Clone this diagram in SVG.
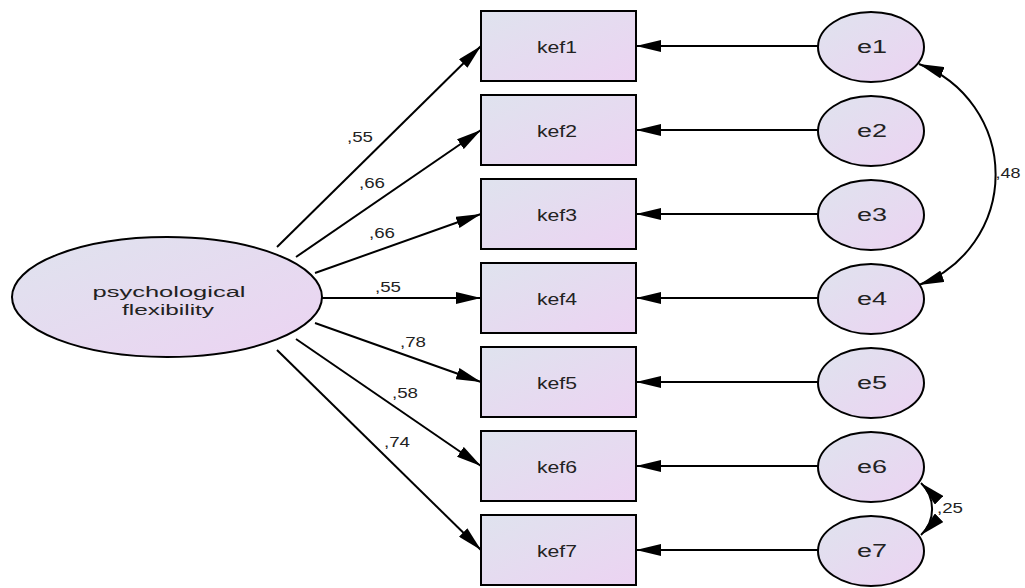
<svg xmlns="http://www.w3.org/2000/svg" width="1025" height="588" viewBox="0 0 1025 588">
<defs>
<linearGradient id="g" x1="0" y1="0" x2="1" y2="1">
<stop offset="0" stop-color="#dfe3ee"/>
<stop offset="1" stop-color="#ecd3f2"/>
</linearGradient>
<marker id="ah" viewBox="0 0 25 12" refX="25" refY="6" markerWidth="25" markerHeight="12" markerUnits="userSpaceOnUse" orient="auto-start-reverse">
<path d="M0,0 L25,6 L0,12 z" fill="#000"/>
</marker>
</defs>
<style>
.n{fill:url(#g);stroke:#000;stroke-width:2}
.t{font-family:"Liberation Sans",Arial,sans-serif;font-size:16.5px;fill:#222;text-anchor:middle}
.e{font-family:"Liberation Sans",Arial,sans-serif;font-size:17.5px;fill:#222;text-anchor:middle}
.p{font-family:"Liberation Sans",Arial,sans-serif;font-size:15.5px;fill:#222;text-anchor:middle}
.l{font-family:"Liberation Sans",Arial,sans-serif;font-size:14px;fill:#222;text-anchor:middle}
.c{stroke:#000;stroke-width:2;fill:none;marker-end:url(#ah)}
.cv{stroke:#000;stroke-width:2;fill:none;marker-end:url(#ah);marker-start:url(#ah)}
</style>
<g id="connectors">
<line class="c" x1="277" y1="247" x2="481" y2="46"/>
<line class="c" x1="296" y1="257" x2="481" y2="130"/>
<line class="c" x1="315" y1="273" x2="481" y2="214"/>
<line class="c" x1="322" y1="298" x2="481" y2="298"/>
<line class="c" x1="315" y1="323" x2="481" y2="382"/>
<line class="c" x1="296" y1="339" x2="481" y2="466"/>
<line class="c" x1="277" y1="350" x2="481" y2="550"/>
<line class="c" x1="818" y1="46" x2="636" y2="46"/>
<line class="c" x1="818" y1="130" x2="636" y2="130"/>
<line class="c" x1="818" y1="214" x2="636" y2="214"/>
<line class="c" x1="818" y1="298" x2="636" y2="298"/>
<line class="c" x1="818" y1="382" x2="636" y2="382"/>
<line class="c" x1="818" y1="466" x2="636" y2="466"/>
<line class="c" x1="818" y1="550" x2="636" y2="550"/>
<path class="cv" d="M919,64 A118,118 0 0 1 919,285"/>
<path class="cv" d="M921,483 A36,36 0 0 1 921,535"/>
<text class="l" x="360" y="142" textLength="26" lengthAdjust="spacingAndGlyphs">,55</text>
<text class="l" x="372" y="188" textLength="26" lengthAdjust="spacingAndGlyphs">,66</text>
<text class="l" x="382" y="238" textLength="26" lengthAdjust="spacingAndGlyphs">,66</text>
<text class="l" x="388" y="292" textLength="26" lengthAdjust="spacingAndGlyphs">,55</text>
<text class="l" x="413" y="347" textLength="26" lengthAdjust="spacingAndGlyphs">,78</text>
<text class="l" x="405" y="398" textLength="26" lengthAdjust="spacingAndGlyphs">,58</text>
<text class="l" x="397" y="447" textLength="26" lengthAdjust="spacingAndGlyphs">,74</text>
<text class="l" x="1008" y="178" textLength="25" lengthAdjust="spacingAndGlyphs">,48</text>
<text class="l" x="950" y="513" textLength="26" lengthAdjust="spacingAndGlyphs">,25</text>
</g>
<g id="psych"><ellipse class="n" cx="167" cy="297" rx="155" ry="60"/><text class="p" x="169" y="297" textLength="153" lengthAdjust="spacingAndGlyphs">psychological</text><text class="p" x="168" y="315" textLength="92" lengthAdjust="spacingAndGlyphs">flexibility</text></g>
<g id="kef1"><rect class="n" x="481" y="11" width="155" height="70"/><text class="t" x="557" y="53" textLength="40" lengthAdjust="spacingAndGlyphs">kef1</text></g>
<g id="kef2"><rect class="n" x="481" y="95" width="155" height="70"/><text class="t" x="557" y="137" textLength="40" lengthAdjust="spacingAndGlyphs">kef2</text></g>
<g id="kef3"><rect class="n" x="481" y="179" width="155" height="70"/><text class="t" x="557" y="221" textLength="40" lengthAdjust="spacingAndGlyphs">kef3</text></g>
<g id="kef4"><rect class="n" x="481" y="263" width="155" height="70"/><text class="t" x="557" y="305" textLength="40" lengthAdjust="spacingAndGlyphs">kef4</text></g>
<g id="kef5"><rect class="n" x="481" y="347" width="155" height="70"/><text class="t" x="557" y="389" textLength="40" lengthAdjust="spacingAndGlyphs">kef5</text></g>
<g id="kef6"><rect class="n" x="481" y="431" width="155" height="70"/><text class="t" x="557" y="473" textLength="40" lengthAdjust="spacingAndGlyphs">kef6</text></g>
<g id="kef7"><rect class="n" x="481" y="515" width="155" height="70"/><text class="t" x="557" y="557" textLength="40" lengthAdjust="spacingAndGlyphs">kef7</text></g>
<g id="e1"><ellipse class="n" cx="871" cy="47" rx="53" ry="35"/><text class="e" x="872" y="53" textLength="30" lengthAdjust="spacingAndGlyphs">e1</text></g>
<g id="e2"><ellipse class="n" cx="871" cy="131" rx="53" ry="35"/><text class="e" x="872" y="137" textLength="30" lengthAdjust="spacingAndGlyphs">e2</text></g>
<g id="e3"><ellipse class="n" cx="871" cy="215" rx="53" ry="35"/><text class="e" x="872" y="221" textLength="30" lengthAdjust="spacingAndGlyphs">e3</text></g>
<g id="e4"><ellipse class="n" cx="871" cy="299" rx="53" ry="35"/><text class="e" x="872" y="305" textLength="30" lengthAdjust="spacingAndGlyphs">e4</text></g>
<g id="e5"><ellipse class="n" cx="871" cy="383" rx="53" ry="35"/><text class="e" x="872" y="389" textLength="30" lengthAdjust="spacingAndGlyphs">e5</text></g>
<g id="e6"><ellipse class="n" cx="871" cy="467" rx="53" ry="35"/><text class="e" x="872" y="473" textLength="30" lengthAdjust="spacingAndGlyphs">e6</text></g>
<g id="e7"><ellipse class="n" cx="871" cy="551" rx="53" ry="35"/><text class="e" x="872" y="557" textLength="30" lengthAdjust="spacingAndGlyphs">e7</text></g>
</svg>
